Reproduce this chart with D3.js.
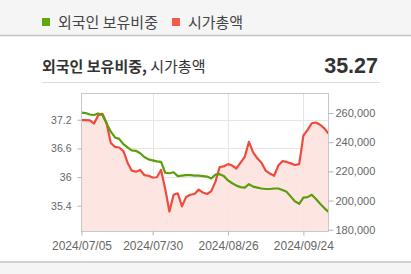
<!DOCTYPE html>
<html>
<head>
<meta charset="utf-8">
<script src="https://cdn.jsdelivr.net/npm/d3@7"></script>
<style>
  body { margin: 0; background: #fff; }
  svg { display: block; font-family: "Liberation Sans", Arial, sans-serif; }
  .kr { font-family: "Noto Sans CJK KR", "Noto Sans", sans-serif; }
</style>
</head>
<body>
<svg id="chart" width="411" height="274"></svg>
<script>
// trading days shown on the x axis
const dates = [
  "2024/07/05", "2024/07/08", "2024/07/09", "2024/07/10", "2024/07/11", "2024/07/12",
  "2024/07/15", "2024/07/16", "2024/07/17", "2024/07/18", "2024/07/19",
  "2024/07/22", "2024/07/23", "2024/07/24", "2024/07/25", "2024/07/26",
  "2024/07/29", "2024/07/30", "2024/07/31", "2024/08/01", "2024/08/02",
  "2024/08/05", "2024/08/06", "2024/08/07", "2024/08/08", "2024/08/09",
  "2024/08/12", "2024/08/13", "2024/08/14", "2024/08/16",
  "2024/08/19", "2024/08/20", "2024/08/21", "2024/08/22", "2024/08/23",
  "2024/08/26", "2024/08/27", "2024/08/28", "2024/08/29", "2024/08/30",
  "2024/09/02", "2024/09/03", "2024/09/04", "2024/09/05", "2024/09/06",
  "2024/09/09", "2024/09/10", "2024/09/11", "2024/09/12", "2024/09/13",
  "2024/09/19", "2024/09/20", "2024/09/23", "2024/09/24",
  "2024/09/25", "2024/09/26", "2024/09/27", "2024/09/30", "2024/10/02", "2024/10/04"
];

// 외국인 보유비중 (%)
const foreignRatio = [
  37.35, 37.34, 37.31, 37.30, 37.33, 37.30, 37.12, 36.95, 36.83, 36.80,
  36.69, 36.62, 36.56, 36.55, 36.50, 36.42, 36.37, 36.35, 36.33, 36.32,
  36.09, 36.08, 36.10, 36.02, 36.03, 36.04, 36.04, 36.03, 36.03, 36.02,
  36.01, 35.97, 36.05, 36.06, 36.02, 35.93, 35.87, 35.82, 35.79, 35.78,
  35.85, 35.80, 35.78, 35.76, 35.75, 35.75, 35.76, 35.76, 35.73, 35.69,
  35.59, 35.49, 35.44, 35.57, 35.58, 35.63, 35.54, 35.44, 35.35, 35.27
];

// 시가총액
const marketCap = [
  255100, 255100, 255000, 252800, 258500, 259500, 253000, 239500, 236800, 236400,
  234000, 226000, 220500, 219800, 221000, 217500, 217000, 215800, 216000, 221000,
  208000, 192500, 204000, 205000, 196000, 202500, 204000, 204500, 207500, 205500,
  204500, 206500, 213000, 223000, 223500, 225000, 224000, 222000, 226000, 230000,
  240300, 233000, 229000, 226000, 220500, 218500, 217000, 224000, 227000, 226500,
  225500, 224400, 225000, 244500, 248500, 253000, 253500, 252000, 249500, 246000
];

const xTicks = ["2024/07/05", "2024/07/30", "2024/08/26", "2024/09/24"];
const leftTicks = [35.4, 36, 36.6, 37.2];
const rightTicks = [180000, 200000, 220000, 240000, 260000];

const series = [
  { name: "외국인 보유비중", color: "#5a9e0a", key: "#64a80c" },
  { name: "시가총액", color: "#ef4a3c", key: "#f25a4c" }
];

const svg = d3.select("#chart");
const W = 411, H = 274;
const plot = { left: 81.5, right: 328.5, top: 93.5, bottom: 231.5 };

// page background bands
svg.append("rect").attr("width", W).attr("height", 35).attr("fill", "#f5f5f5");
svg.append("line").attr("x1", 0).attr("x2", W).attr("y1", 35.5).attr("y2", 35.5)
  .attr("stroke", "#c4c4c4").attr("stroke-width", 1.5);
svg.append("rect").attr("y", 262).attr("width", W).attr("height", H - 262).attr("fill", "#f5f5f5");
svg.append("line").attr("x1", 0).attr("x2", W).attr("y1", 262).attr("y2", 262)
  .attr("stroke", "#c4c4c4").attr("stroke-width", 1.5);

// legend
let lx = 42;
series.forEach(function (s, i) {
  svg.append("rect").attr("x", lx).attr("y", 18).attr("width", 8).attr("height", 8).attr("fill", s.key);
  let t = svg.append("text").attr("class", "kr").attr("x", lx + 16).attr("y", 27.5)
    .attr("font-size", 15).attr("fill", "#444").text(s.name);
  lx += 16 + t.node().getComputedTextLength() + 14;
});

// header
let head = svg.append("text").attr("class", "kr").attr("x", 42).attr("y", 72)
  .attr("font-size", 15).attr("fill", "#333");
head.append("tspan").attr("font-weight", "bold").text("외국인 보유비중,");
head.append("tspan").text(" 시가총액");

svg.append("text").attr("x", 378).attr("y", 73).attr("text-anchor", "end")
  .attr("font-size", 21.5).attr("font-weight", "bold").attr("fill", "#333")
  .text(foreignRatio[foreignRatio.length - 1].toFixed(2));

svg.append("line").attr("x1", 42).attr("x2", 380).attr("y1", 82.5).attr("y2", 82.5)
  .attr("stroke", "#dcdcdc");

// scales
const x = d3.scalePoint().domain(dates).range([plot.left, plot.right]);
const yL = d3.scaleLinear().domain([34.86, 37.75]).range([plot.bottom, plot.top]);
const yR = d3.scaleLinear().domain([178800, 273400]).range([plot.bottom, plot.top]);

// grid
const g = svg.append("g");
g.selectAll(".hgrid").data(leftTicks).enter().append("line")
  .attr("x1", plot.left).attr("x2", plot.right)
  .attr("y1", d => Math.round(yL(d)) + 0.5).attr("y2", d => Math.round(yL(d)) + 0.5)
  .attr("stroke", "#e6e6e6");
g.selectAll(".vgrid").data(xTicks.slice(1)).enter().append("line")
  .attr("x1", d => Math.round(x(d)) + 0.5).attr("x2", d => Math.round(x(d)) + 0.5)
  .attr("y1", plot.top).attr("y2", plot.bottom)
  .attr("stroke", "#e6e6e6");

// area + lines
const idx = d3.range(dates.length);
g.append("path").datum(idx)
  .attr("fill", "#fde2df").attr("fill-opacity", 0.9)
  .attr("d", d3.area().x(i => x(dates[i])).y0(plot.bottom).y1(i => yR(marketCap[i])));

g.append("path").datum(idx)
  .attr("fill", "none").attr("stroke", series[1].color).attr("stroke-width", 2.2)
  .attr("stroke-linejoin", "round")
  .attr("d", d3.line().x(i => x(dates[i])).y(i => yR(marketCap[i])));

g.append("path").datum(idx)
  .attr("fill", "none").attr("stroke", series[0].color).attr("stroke-width", 2.2)
  .attr("stroke-linejoin", "round")
  .attr("d", d3.line().x(i => x(dates[i])).y(i => yL(foreignRatio[i])));

// frame
svg.append("rect").attr("x", plot.left).attr("y", plot.top)
  .attr("width", plot.right - plot.left).attr("height", plot.bottom - plot.top)
  .attr("fill", "none").attr("stroke", "#c8c8c8");

// axes
function styleAxis(sel, size) {
  sel.select(".domain").remove();
  sel.selectAll(".tick line").attr("stroke", "#b4b4b4");
  sel.selectAll(".tick text").attr("fill", "#666").attr("font-size", size)
    .attr("font-family", "'Liberation Sans', Arial, sans-serif");
}

svg.append("g").attr("transform", "translate(0," + plot.bottom + ")")
  .call(d3.axisBottom(x).tickValues(xTicks).tickSize(4).tickPadding(6))
  .call(styleAxis, 12);

svg.append("g").attr("transform", "translate(" + plot.left + ",0)")
  .call(d3.axisLeft(yL).tickValues(leftTicks).tickSize(4).tickPadding(6)
    .tickFormat(d => d3.format("")(d)))
  .call(styleAxis, 10.5);

svg.append("g").attr("transform", "translate(" + plot.right + ",0)")
  .call(d3.axisRight(yR).tickValues(rightTicks).tickSize(5).tickPadding(2)
    .tickFormat(d3.format(",")))
  .call(styleAxis, 11);
</script>
</body>
</html>
